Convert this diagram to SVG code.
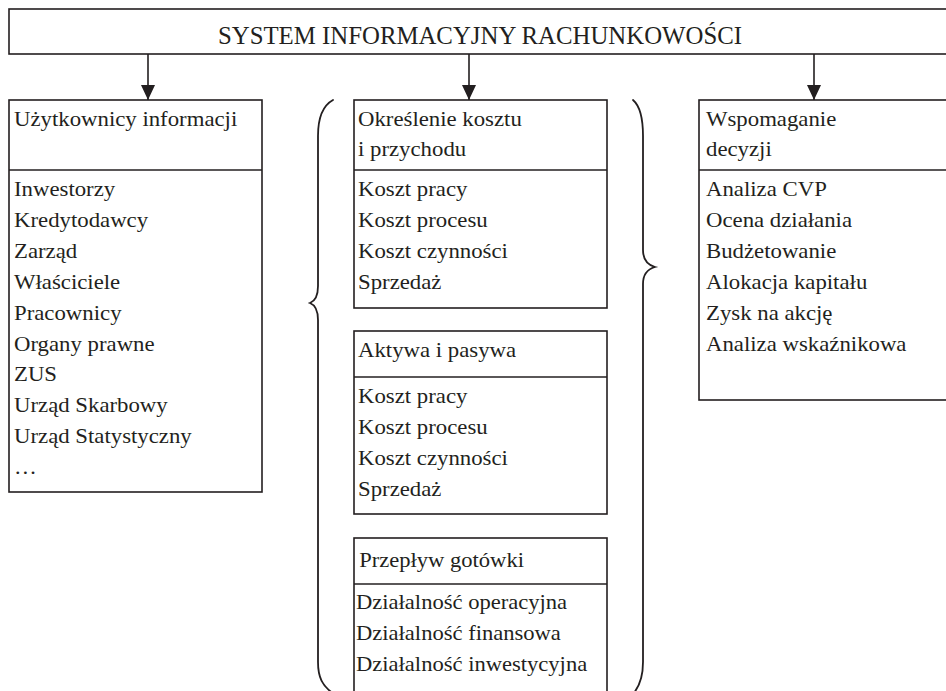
<svg xmlns="http://www.w3.org/2000/svg" width="946" height="691" viewBox="0 0 946 691">
  <style>
    .box { fill: #fff; stroke: #231f20; stroke-width: 1.6; }
    .sep { stroke: #231f20; stroke-width: 1.6; fill: none; }
    .brace { fill: none; stroke: #231f20; stroke-width: 1.8; stroke-linecap: round; }
    .conn { stroke: #231f20; stroke-width: 1.6; fill: none; marker-end: url(#arrow); }
    text { font-family: "Liberation Serif", "Times New Roman", serif; fill: #231f20; }
    .t { font-size: 21.5px; }
    .title { font-size: 24.8px; }
  </style>
  <defs>
    <marker id="arrow" markerUnits="userSpaceOnUse" markerWidth="16" markerHeight="14" refX="15" refY="7" orient="auto">
      <path d="M0,0 L15,7 L0,14 Z" fill="#231f20"/>
    </marker>
  </defs>

  <rect width="946" height="691" fill="#fff"/>

  <!-- root box -->
  <g id="system">
    <rect class="box" x="9" y="9" width="950" height="45"/>
    <text class="title" x="480" y="44" text-anchor="middle">SYSTEM INFORMACYJNY RACHUNKOWOŚCI</text>
  </g>

  <!-- connectors from the root box -->
  <g id="connectors">
    <line class="conn" x1="148" y1="54" x2="148" y2="100"/>
    <line class="conn" x1="469" y1="54" x2="469" y2="100"/>
    <line class="conn" x1="814" y1="54" x2="814" y2="100"/>
  </g>

  <!-- information users -->
  <g id="uzytkownicy">
    <rect class="box" x="9" y="100" width="253" height="392"/>
    <line class="sep" x1="9" y1="170" x2="262" y2="170"/>
    <g class="t" transform="translate(14,0) scale(1.06,1)">
      <text x="0" y="126">Użytkownicy informacji</text>
      <text x="0" y="196">Inwestorzy</text>
      <text x="0" y="227">Kredytodawcy</text>
      <text x="0" y="258">Zarząd</text>
      <text x="0" y="289">Właściciele</text>
      <text x="0" y="320">Pracownicy</text>
      <text x="0" y="351">Organy prawne</text>
      <text x="0" y="381">ZUS</text>
      <text x="0" y="412">Urząd Skarbowy</text>
      <text x="0" y="443">Urząd Statystyczny</text>
      <text x="0" y="474">…</text>
    </g>
  </g>

  <!-- braces around the middle column -->
  <g id="braces">
    <path class="brace" d="M333,100 C322,106 318,118 318,136 L318,286 C318,296 315,301 310,303 C315,305 318,310 318,320 L318,662 C318,677 322,686 334,694"/>
    <path class="brace" d="M633,100 C640,106 643,118 643,136 L643,250 C643,260 648,265 655,267 C648,269 643,274 643,284 L643,662 C643,677 640,686 633,694"/>
  </g>

  <!-- cost and revenue -->
  <g id="koszt-przychod">
    <rect class="box" x="354" y="100" width="253" height="208"/>
    <line class="sep" x1="354" y1="170" x2="607" y2="170"/>
    <g class="t" transform="translate(358,0) scale(1.06,1)">
      <text x="0" y="126">Określenie kosztu</text>
      <text x="0" y="156">i przychodu</text>
      <text x="0" y="196">Koszt pracy</text>
      <text x="0" y="227">Koszt procesu</text>
      <text x="0" y="258">Koszt czynności</text>
      <text x="0" y="289">Sprzedaż</text>
    </g>
  </g>

  <!-- assets and liabilities -->
  <g id="aktywa-pasywa">
    <rect class="box" x="354" y="331" width="253" height="183"/>
    <line class="sep" x1="354" y1="377" x2="607" y2="377"/>
    <g class="t" transform="translate(358,0) scale(1.06,1)">
      <text x="0" y="357">Aktywa i pasywa</text>
      <text x="0" y="403">Koszt pracy</text>
      <text x="0" y="434">Koszt procesu</text>
      <text x="0" y="465">Koszt czynności</text>
      <text x="0" y="496">Sprzedaż</text>
    </g>
  </g>

  <!-- cash flow -->
  <g id="przeplyw-gotowki">
    <rect class="box" x="354" y="538" width="253" height="160"/>
    <line class="sep" x1="354" y1="584" x2="607" y2="584"/>
    <g class="t" transform="translate(356,0) scale(1.05,1)">
      <text x="3" y="567">Przepływ gotówki</text>
      <text x="0" y="609">Działalność operacyjna</text>
      <text x="0" y="640">Działalność finansowa</text>
      <text x="0" y="671">Działalność inwestycyjna</text>
    </g>
  </g>

  <!-- decision support -->
  <g id="wspomaganie">
    <rect class="box" x="699" y="100" width="260" height="300"/>
    <line class="sep" x1="699" y1="170" x2="946" y2="170"/>
    <g class="t" transform="translate(706,0) scale(1.06,1)">
      <text x="0" y="126">Wspomaganie</text>
      <text x="0" y="156">decyzji</text>
      <text x="0" y="196">Analiza CVP</text>
      <text x="0" y="227">Ocena działania</text>
      <text x="0" y="258">Budżetowanie</text>
      <text x="0" y="289">Alokacja kapitału</text>
      <text x="0" y="320">Zysk na akcję</text>
      <text x="0" y="351">Analiza wskaźnikowa</text>
    </g>
  </g>
</svg>
